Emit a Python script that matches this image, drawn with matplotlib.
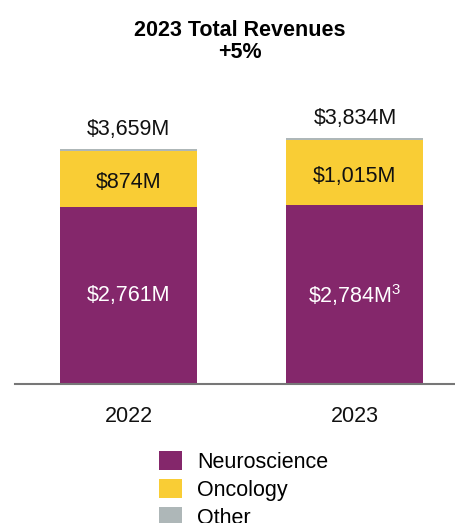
import matplotlib
matplotlib.use('Agg')
import matplotlib.pyplot as plt
import numpy as np

plt.rcParams['font.family'] = ['Liberation Sans', 'DejaVu Sans']
plt.rcParams['mathtext.fontset'] = 'custom'
plt.rcParams['mathtext.rm'] = 'Liberation Sans'
plt.rcParams['mathtext.it'] = 'Liberation Sans'

# ---------------------------------------------------------------------------
years       = ['2022', '2023']
neuro       = [2761, 2784]
oncology    = [874, 1015]
totals      = [3659, 3834]
other       = [t - n - o for t, n, o in zip(totals, neuro, oncology)]
neuro_lbl   = [r'\$2,761M', r'\$2,784M$^{\mathrm{3}}$']
onc_lbl     = ['$874M', '$1,015M']
total_lbl   = ['$3,659M', '$3,834M']
series      = ['Neuroscience', 'Oncology', 'Other']

C_NEURO = '#84276b'
C_ONC   = '#f9cd35'
C_OTHER = '#aeb7b8'
FS = 15.5

W, H = 456, 523
fig = plt.figure(figsize=(W / 100, H / 100), dpi=100)
# axes: left 15px, right edge, baseline at y=384px, top at y=100px
ax = fig.add_axes([15 / W, (H - 384) / H, 441 / W, 284 / H])

x = np.arange(len(years))
bw = 0.605
b1 = ax.bar(x, neuro, bw, color=C_NEURO, label=series[0])
b2 = ax.bar(x, oncology, bw, bottom=neuro, color=C_ONC, label=series[1])
b3 = ax.bar(x, other, bw, bottom=np.add(neuro, oncology), color=C_OTHER, label=series[2])

ax.set_xlim(-0.501, 1.446)
ax.set_ylim(0, 4424)

for i in range(len(years)):
    ax.text(x[i], neuro[i] / 2, neuro_lbl[i], ha='center', va='center',
            color='white', fontsize=FS)
    ax.text(x[i], neuro[i] + oncology[i] / 2 - 60, onc_lbl[i], ha='center',
            va='center', color='#111111', fontsize=FS, parse_math=False)
    ax.annotate(total_lbl[i], (x[i], totals[i]), xytext=(0, 14),
                textcoords='offset points', ha='center', va='center',
                color='#111111', fontsize=FS, parse_math=False)

for s in ['top', 'right', 'left']:
    ax.spines[s].set_visible(False)
ax.spines['bottom'].set_color('#777777')
ax.spines['bottom'].set_linewidth(1.5)
ax.set_yticks([])
ax.set_xticks(x)
ax.set_xticklabels(years, fontsize=FS, color='#111111')
ax.tick_params(axis='x', length=0, pad=16)

fig.text(240 / W, 1 - 30 / H, '2023 Total Revenues', ha='center', va='center',
         fontsize=15.5, fontweight='bold')
fig.text(240 / W, 1 - 52 / H, '+5%', ha='center', va='center',
         fontsize=15.5, fontweight='bold')

fig.legend(handles=[b1, b2, b3], labels=series, loc='upper left',
           bbox_to_anchor=(159 / W, 1 - 451 / H), frameon=False, fontsize=FS,
           handlelength=1.05, handleheight=1.0, handletextpad=0.72,
           labelspacing=0.27, borderpad=0, borderaxespad=0)

fig.savefig('out.png', dpi=100)
